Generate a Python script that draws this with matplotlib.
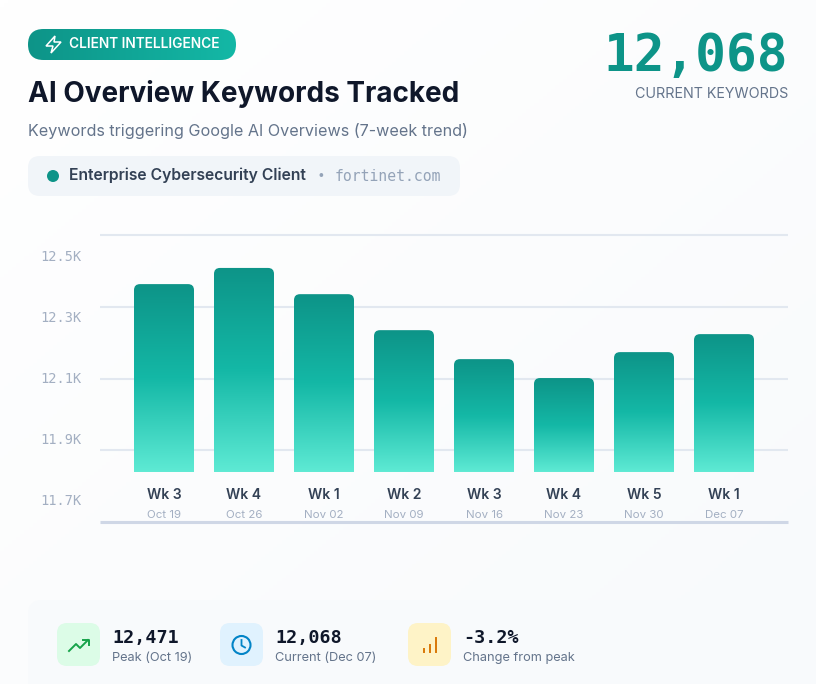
import numpy as np
import matplotlib
matplotlib.use('Agg')
import matplotlib.pyplot as plt
from matplotlib.colors import LinearSegmentedColormap
from matplotlib.patches import FancyBboxPatch, Circle, PathPatch
from matplotlib.path import Path
from matplotlib.transforms import ScaledTranslation

# data
weeks = ['Wk 3', 'Wk 4', 'Wk 1', 'Wk 2', 'Wk 3', 'Wk 4', 'Wk 5', 'Wk 1']
dates = ['Oct 19', 'Oct 26', 'Nov 02', 'Nov 09', 'Nov 16', 'Nov 23', 'Nov 30', 'Dec 07']
keywords = [12408, 12461, 12375, 12257, 12162, 12100, 12185, 12244]
y_ticks = [12500, 12300, 12100, 11900, 11700]
y_labels = ['12.5K', '12.3K', '12.1K', '11.9K', '11.7K']
stat_values = ['12,471', '12,068', '-3.2%']
stat_labels = ['Peak (Oct 19)', 'Current (Dec 07)', 'Change from peak']

SANS = 'Inter'
MONO = 'DejaVu Sans Mono'
PX = 0.72  # px to pt at dpi 100

fig = plt.figure(figsize=(8.16, 6.84), dpi=100)

# page layer in pixel coordinates
bg = fig.add_axes([0, 0, 1, 1], zorder=0)
bg.axis('off')
gx, gy = np.meshgrid(np.linspace(0, 1, 200), np.linspace(0, 1, 200))
page = LinearSegmentedColormap.from_list('page', ['#ffffff', '#f8fafc'])
bg.imshow(gx + gy, cmap=page, extent=[0, 816, 684, 0], aspect='auto', zorder=0)


def box(x0, y0, x1, y1, r, color, z=1):
    p = FancyBboxPatch((x0, y0), x1 - x0, y1 - y0, boxstyle=f'round,pad=0,rounding_size={r}',
                       fc=color, ec='none', zorder=z)
    bg.add_patch(p)
    return p


def label(x, y, s, size, color, weight='normal', family=SANS, ha='left'):
    bg.text(x, y, s, fontsize=size * PX, color=color, fontweight=weight, family=family,
            ha=ha, va='center', zorder=5)


# header pill
pill = box(28, 29, 236, 60, 15.5, 'none')
pill_cmap = LinearSegmentedColormap.from_list('pill', ['#0d9488', '#14b8a6'])
im = bg.imshow(np.linspace(0, 1, 256).reshape(1, -1), cmap=pill_cmap,
               extent=[28, 236, 60, 29], aspect='auto', zorder=2)
im.set_clip_path(pill)
bolt = [(55, 36), (46, 46), (53, 46), (51, 53), (61, 42), (54, 42), (55, 36)]
bg.add_patch(PathPatch(Path(bolt, closed=True), fc='none', ec='white', lw=1.1, zorder=3))
label(69, 44.5, 'CLIENT INTELLIGENCE', 13.7, 'white', 'semibold')

label(28, 94.5, 'AI Overview Keywords Tracked', 27.9, '#0f172a', 'bold')
label(28, 131, 'Keywords triggering Google AI Overviews (7-week trend)', 16.15, '#64748b')

box(28, 156, 460, 196, 12, '#f1f5f9')
bg.add_patch(Circle((53, 176), 6, fc='#0d9488', ec='none', zorder=3))
label(69, 175.5, 'Enterprise Cybersecurity Client', 15.7, '#334155', 'semibold')
label(321, 176, '•', 12, '#94a3b8', ha='center')
label(335, 176.5, 'fortinet.com', 14.7, '#94a3b8', family=MONO)

label(788, 56.5, '12,068', 51, '#0d9488', 'bold', MONO, 'right')
label(788, 93.5, 'CURRENT KEYWORDS', 14.3, '#64748b', ha='right')

# stats strip
box(28, 600, 790, 700, 14, '#f8fafc')
stat_x = [57, 220, 408]
stat_fill = ['#dcfce7', '#e0f2fe', '#fef3c7']
for x0, val, lab, fill in zip(stat_x, stat_values, stat_labels, stat_fill):
    box(x0, 623, x0 + 43, 666, 10, fill, 2)
    label(x0 + 55, 638, val, 18.4, '#0f172a', 'bold', MONO)
    label(x0 + 55, 658, lab, 12.8, '#64748b')

bg.plot([69, 76, 80, 88], [651, 644, 648, 640], color='#16a34a', lw=1.4, zorder=3)
bg.plot([82.5, 88.5, 88.5], [640, 640, 645], color='#16a34a', lw=1.4, zorder=3)
bg.add_patch(Circle((241.5, 645), 9, fc='none', ec='#0284c7', lw=1.5, zorder=3))
bg.plot([241.5, 241.5, 245], [640, 645.5, 647.5], color='#0284c7', lw=1.3, zorder=3)
for x, top in zip([423.5, 429.5, 435.5], [649, 645, 638]):
    bg.plot([x, x], [652, top], color='#d97706', lw=1.4, zorder=3)
bg.set_xlim(0, 816)
bg.set_ylim(684, 0)

# chart
ax = fig.add_axes([100 / 816, 1 - 522 / 684, 688 / 816, 287 / 684], zorder=1)
ax.patch.set_visible(False)
for side in ax.spines.values():
    side.set_visible(False)

xs = np.arange(len(keywords))
xlim = (-0.8, 7.8)
ylim = (11628, 12569)
base = 11792

# grid lines sit at even axes fractions, they do not line up with the tick labels
for frac, c, lw in [(1, '#e2e8f0', 1.5), (0.75, '#e2e8f0', 1.5), (0.5, '#e2e8f0', 1.5),
                    (0.25, '#e2e8f0', 1.5), (0, '#cfd7e6', 2.2)]:
    ax.plot([0, 1], [frac, frac], transform=ax.transAxes, color=c, lw=lw, zorder=1,
            clip_on=False, solid_capstyle='butt')

bar_cmap = LinearSegmentedColormap.from_list('bar', ['#0d9488', '#14b8a6', '#5eead4'])
grad = np.linspace(0, 1, 256).reshape(-1, 1)
half = 30 / 80
rx = 6 / 80
ry = 6 / 0.305
for x, v in zip(xs, keywords):
    verts = [(x - half, base), (x - half, v - ry), (x - half, v), (x - half + rx, v),
             (x + half - rx, v), (x + half, v), (x + half, v - ry), (x + half, base), (x - half, base)]
    codes = [Path.MOVETO, Path.LINETO, Path.CURVE3, Path.CURVE3, Path.LINETO,
             Path.CURVE3, Path.CURVE3, Path.LINETO, Path.CLOSEPOLY]
    im = ax.imshow(grad, cmap=bar_cmap, extent=[x - half, x + half, base, v], aspect='auto',
                   origin='upper', zorder=2)
    im.set_clip_path(PathPatch(Path(verts, codes), transform=ax.transData))

ax.set_xlim(*xlim)
ax.set_ylim(*ylim)
ax.set_yticks(y_ticks, y_labels, family=MONO, fontsize=13.6 * PX, color='#a3afc2')
ax.set_xticks([])
ax.tick_params(axis='y', length=0, pad=13)
nudge = ScaledTranslation(0, 1 / 100, fig.dpi_scale_trans)
for t in ax.get_yticklabels():
    t.set_transform(t.get_transform() + nudge)

trans = ax.get_xaxis_transform()
for x, w, d in zip(xs, weeks, dates):
    ax.text(x, 27 / 287, w, transform=trans, ha='center', va='center', fontsize=14 * PX,
            color='#334155', fontweight='semibold', family=SANS)
    ax.text(x, 7.5 / 287, d, transform=trans, ha='center', va='center', fontsize=11.5 * PX,
            color='#a3afc2', family=SANS)

fig.savefig('out.png', dpi=100)
